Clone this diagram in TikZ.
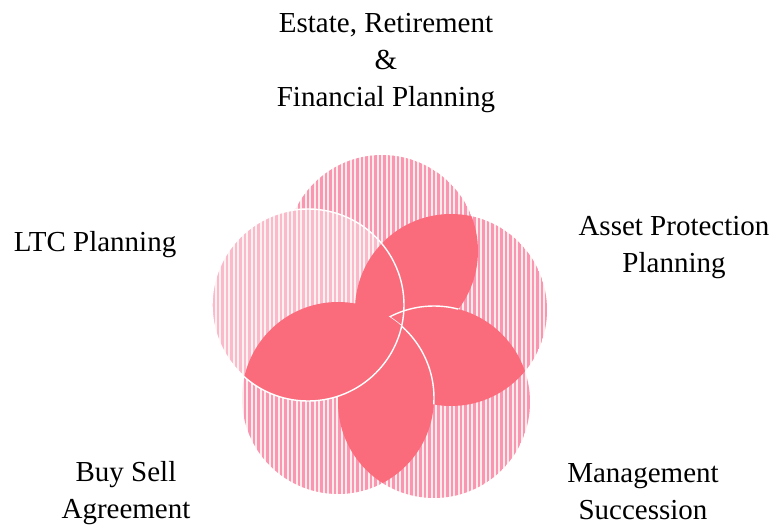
\documentclass[tikz,border=0pt]{standalone}
\usepackage{fontspec}
\setmainfont{Liberation Serif}
\usetikzlibrary{positioning}

\definecolor{petal}{RGB}{250,108,124}
\definecolor{hatch}{RGB}{250,150,178}
\definecolor{paper}{RGB}{254,236,234}

\begin{document}
\begin{tikzpicture}[x=1pt, y=-1pt,
        areatext/.style={font=\fontsize{29}{37}\selectfont, align=center, inner sep=0pt},
        rim/.style={draw=white, line width=1.4pt}
    ]
    \useasboundingbox (0,0) rectangle (777,525);
    \def\rad{96}

    % Circle centres
    \coordinate (t) at (382,251);
    \coordinate (tr) at (451,310);
    \coordinate (br) at (434,402);
    \coordinate (bl) at (338,398);
    \coordinate (tl) at (308,305);

    % Hatched circles
    \begin{scope}
        \clip (t) circle (\rad) (tr) circle (\rad) (br) circle (\rad) (bl) circle (\rad) (tl) circle (\rad);
        \fill[paper] (200,140) rectangle (560,510);
        \foreach \x in {200,204.5,...,560}
            \draw[hatch, line width=2.3pt] (\x,140) -- (\x,510);
    \end{scope}
    \fill[white, opacity=0.35] (tl) circle (\rad);

    % Petals
    \foreach \a/\b in {t/tr, tr/br, br/bl} {
        \begin{scope}
            \clip (\a) circle (\rad);
            \fill[petal] (\b) circle (\rad);
        \end{scope}
    }

    % White rims between petals
    \begin{scope}
        \clip (t) circle (\rad);
        \clip (tr) circle (\rad);
        \draw[rim] (br) circle (\rad);
    \end{scope}
    \begin{scope}
        \clip (tr) circle (\rad);
        \clip (br) circle (\rad);
        \draw[rim] (bl) circle (\rad);
    \end{scope}

    % Left petal on top
    \begin{scope}
        \clip (bl) circle (\rad);
        \fill[petal] (tl) circle (\rad);
    \end{scope}
    \draw[rim] (tl) circle (\rad);

    % Labels
    \node[areatext] (estate) at (386,63) {Estate, Retirement\\\&\\Financial Planning};
    \node[areatext] (ltc) at (95,245) {LTC Planning};
    \node[areatext] (asset) at (674,248) {Asset Protection\\Planning};
    \node[areatext] (buysell) at (126,493) {Buy Sell\\Agreement};
    \node[areatext] (mgmt) at (643,492) {Management\\Succession};
\end{tikzpicture}
\end{document}
